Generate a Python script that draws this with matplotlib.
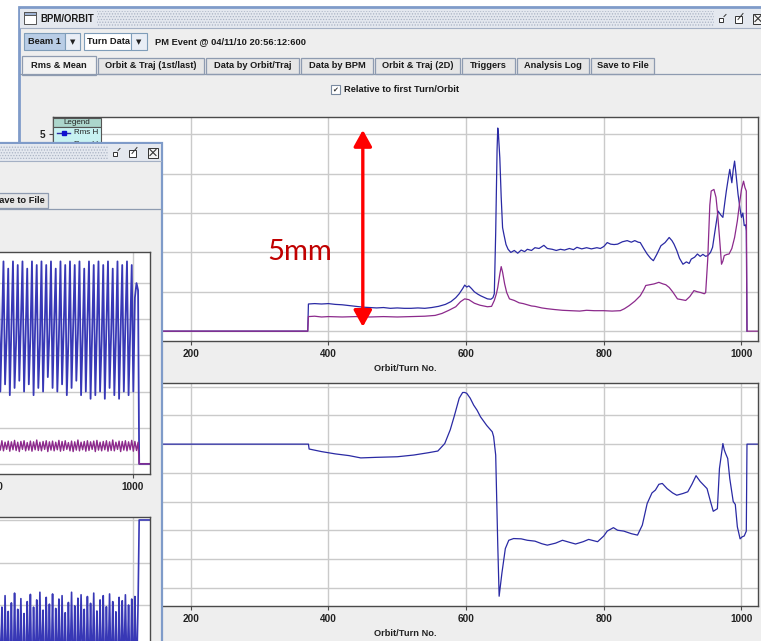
import numpy as np
import matplotlib
matplotlib.use('Agg')
import matplotlib.pyplot as plt
from matplotlib.patches import Rectangle

# --- data (turn number, value) ---
# back window, upper plot: Rms H (blue) and Rms V (purple), mm
rms_h = [(0, 0), (370, 0), (371, 0.69), (380, 0.70), (390, 0.69), (400, 0.70), (410, 0.68),
         (420, 0.67), (430, 0.65), (440, 0.63), (450, 0.61), (460, 0.60), (470, 0.59), (480, 0.60),
         (490, 0.58), (500, 0.59), (510, 0.58), (520, 0.58), (530, 0.59), (540, 0.58), (550, 0.60),
         (560, 0.63), (570, 0.68), (578, 0.75), (585, 0.85), (590, 0.95), (595, 1.08), (598, 1.17),
         (601, 1.12), (604, 1.15), (608, 1.08), (612, 1.00), (617, 0.94), (621, 0.90), (626, 0.86),
         (631, 0.82), (636, 0.81), (639, 0.85), (641, 0.95), (643, 2.5), (645, 4.6), (646, 5.16),
         (647, 5.0), (649, 4.4), (651, 3.4), (653, 2.63), (655, 2.45), (658, 2.2), (661, 2.08),
         (665, 2.0), (670, 2.05), (675, 1.98), (680, 2.06), (685, 2.02), (689, 2.08), (695, 2.05),
         (700, 2.12), (706, 2.1), (713, 2.18), (718, 2.1), (725, 2.08), (731, 2.05), (737, 2.08),
         (743, 2.06), (750, 2.1), (756, 2.07), (761, 2.13), (768, 2.09), (775, 2.12), (782, 2.09),
         (790, 2.12), (795, 2.1), (800, 2.15), (805, 2.25), (810, 2.21), (815, 2.2), (820, 2.21),
         (827, 2.27), (834, 2.3), (840, 2.26), (845, 2.3), (850, 2.26), (853, 2.25), (858, 2.1),
         (863, 1.96), (868, 1.85), (872, 1.79), (877, 1.95), (883, 2.17), (889, 2.25), (895, 2.38),
         (899, 2.3), (902, 2.21), (906, 2.05), (910, 1.85), (915, 1.7), (920, 1.76), (924, 1.72),
         (927, 1.83), (932, 1.88), (936, 1.96), (940, 1.9), (944, 1.95), (948, 1.9), (951, 1.92),
         (955, 2.0), (958, 2.13), (962, 2.6), (966, 3.05), (970, 2.95), (973, 2.89), (976, 3.3),
         (978, 3.56), (981, 3.9), (983, 4.11), (986, 3.77), (988, 4.1), (990, 4.32), (992, 4.0),
         (995, 3.48), (998, 3.1), (1000, 2.89), (1002, 3.0), (1004, 2.68), (1006, 2.7),
         (1007, 2.55), (1008, 0.0)]
rms_v = [(0, 0), (370, 0), (371, 0.37), (380, 0.38), (390, 0.36), (400, 0.37), (420, 0.36),
         (440, 0.37), (460, 0.36), (480, 0.37), (500, 0.36), (520, 0.37), (540, 0.38), (555, 0.40),
         (565, 0.45), (575, 0.53), (585, 0.62), (592, 0.75), (598, 0.82), (604, 0.80), (612, 0.71),
         (620, 0.66), (631, 0.62), (637, 0.63), (641, 0.78), (644, 0.95), (646, 1.11), (649, 1.45),
         (651, 1.64), (653, 1.5), (656, 1.2), (659, 0.98), (663, 0.82), (670, 0.78), (677, 0.72),
         (683, 0.70), (689, 0.67), (695, 0.64), (700, 0.63), (710, 0.59), (718, 0.57), (728, 0.55),
         (740, 0.53), (752, 0.52), (765, 0.51), (775, 0.53), (786, 0.52), (800, 0.52), (812, 0.51),
         (824, 0.52), (830, 0.57), (837, 0.65), (845, 0.76), (853, 0.90), (858, 1.05), (861, 1.16),
         (867, 1.18), (873, 1.20), (880, 1.24), (886, 1.20), (890, 1.18), (895, 1.11), (900, 1.0),
         (907, 0.82), (913, 0.80), (919, 0.78), (925, 0.88), (931, 1.03), (936, 1.0), (941, 0.98),
         (946, 0.95), (948, 0.98), (951, 1.83), (954, 3.2), (956, 3.56), (960, 3.6), (963, 3.4),
         (965, 3.05), (968, 2.4), (971, 1.7), (973, 1.78), (975, 1.92), (979, 1.95), (982, 1.96),
         (986, 2.1), (990, 2.38), (994, 2.8), (997, 3.22), (1000, 3.6), (1003, 3.81), (1005, 3.65),
         (1007, 3.56), (1008, 0.0), (1024, 0.0)]

# back window, lower plot: mean position (blue)
mean_h = [(0, 0), (371, 0), (372, -0.17), (390, -0.26), (410, -0.34), (430, -0.40), (447, -0.48),
          (470, -0.46), (500, -0.44), (524, -0.38), (545, -0.30), (559, -0.24), (569, 0.02),
          (577, 0.5), (583, 0.99), (590, 1.6), (595, 1.8), (598, 1.8), (601, 1.77), (606, 1.6),
          (611, 1.36), (616, 1.18), (621, 0.95), (630, 0.65), (638, 0.43), (640, 0.26),
          (643, -0.38), (646, -3.5), (648, -5.3), (652, -4.5), (657, -3.64), (662, -3.35),
          (669, -3.29), (680, -3.3), (689, -3.35), (700, -3.38), (710, -3.47), (718, -3.52),
          (730, -3.45), (740, -3.35), (750, -3.42), (759, -3.48), (770, -3.4), (778, -3.32),
          (791, -3.4), (800, -3.2), (805, -3.03), (814, -2.91), (820, -3.0), (829, -3.03),
          (840, -3.12), (849, -3.17), (856, -2.82), (863, -2.07), (870, -1.7), (875, -1.6),
          (880, -1.4), (885, -1.37), (892, -1.55), (900, -1.7), (906, -1.78), (915, -1.72),
          (922, -1.66), (928, -1.4), (934, -1.1), (940, -1.3), (950, -1.55), (955, -2.0),
          (959, -2.34), (965, -2.25), (968, -0.85), (973, 0.02), (975, -0.2), (977, -0.33),
          (980, -0.5), (983, -1.2), (988, -2.0), (991, -2.1), (994, -2.88), (998, -3.3),
          (1001, -3.23), (1004, -3.2), (1007, -3.03), (1008, 0.0), (1024, 0.0)]

# front window (partly visible), turn-by-turn samples from turn 805 every 2.3 turns
front_start, front_step = 805, 2.3
front_h = [5.5, 2.0, 3.7, 5.6, 2.2, 3.5, 5.4, 1.9, 3.8, 5.6, 2.1, 3.4, 5.5, 2.3, 3.9,
           5.6, 2.0, 3.6, 5.4, 2.2, 3.5, 5.6, 1.9, 3.8, 5.5, 2.1, 3.3, 5.6, 2.0, 3.7,
           5.5, 2.4, 3.6, 5.6, 2.1, 3.9, 5.4, 2.0, 3.5, 5.6, 2.2, 3.7, 5.5, 1.9, 3.4,
           5.6, 2.1, 3.8, 5.5, 2.3, 3.6, 5.6, 1.9, 3.5, 5.4, 2.0, 3.9, 5.6, 1.8, 3.6,
           5.5, 1.9, 3.7, 5.6, 2.0, 3.4, 5.5, 1.8, 3.8, 5.6, 2.1, 3.6, 5.4, 1.9, 3.5,
           5.6, 1.8, 3.7, 5.5, 2.0, 3.9, 5.6, 1.9, 3.6, 5.5, 2.0, 4.6, 5.0, 4.8]
front_v = [0.62, 0.38, 0.64, 0.36, 0.60, 0.40, 0.63, 0.35, 0.61, 0.39,
           0.65, 0.37, 0.60, 0.34, 0.62, 0.40, 0.64, 0.36, 0.59, 0.38,
           0.63, 0.35, 0.61, 0.39, 0.66, 0.37, 0.60, 0.36, 0.62, 0.40,
           0.64, 0.34, 0.61, 0.38, 0.63, 0.36, 0.60, 0.39, 0.65, 0.35,
           0.62, 0.37, 0.64, 0.40, 0.59, 0.36, 0.63, 0.34, 0.61, 0.38,
           0.66, 0.36, 0.60, 0.39, 0.62, 0.35, 0.64, 0.37, 0.61, 0.40,
           0.63, 0.34, 0.65, 0.38, 0.60, 0.36, 0.62, 0.39, 0.64, 0.35,
           0.61, 0.37, 0.66, 0.36, 0.60, 0.40, 0.63, 0.34, 0.62, 0.38,
           0.64, 0.36, 0.61, 0.39, 0.65, 0.35, 0.62, 0.37, 0.60]
front_mean = [0.10, -1.8, -0.05, -2.0, 0.22, -1.7, -0.15, -1.9, 0.05, -2.1,
              0.28, -1.8, -0.10, -1.6, 0.15, -2.0, -0.20, -1.9, 0.08, -1.7,
              0.25, -2.1, -0.05, -1.8, 0.12, -1.9, 0.30, -1.6, -0.12, -2.0,
              0.18, -1.8, 0.02, -1.9, 0.26, -2.1, -0.08, -1.7, 0.14, -1.9,
              0.22, -1.8, -0.18, -2.0, 0.06, -1.7, 0.30, -1.9, -0.02, -2.1,
              0.16, -1.8, 0.24, -1.6, -0.10, -2.0, 0.20, -1.9, 0.04, -1.7,
              0.28, -2.1, -0.14, -1.8, 0.12, -1.9, 0.22, -2.0, -0.04, -1.7,
              0.26, -1.9, 0.08, -1.8, -0.16, -2.1, 0.18, -1.9, 0.10, -1.7,
              0.24, -1.8, 0.00, -2.0, 0.14, -1.9, 0.20, -1.8, 0.05]
front_tail_turns = [1009, 1024]
front_h_tail = [0.0, 0.0]
front_v_tail = [0.0, 0.0]
front_mean_tail = [2.0, 2.0]

x_ticks = [200, 400, 600, 800, 1000]
front_x_ticks = [800, 1000]
tabs = ['Rms & Mean', 'Orbit & Traj (1st/last)', 'Data by Orbit/Traj', 'Data by BPM',
        'Orbit & Traj (2D)', 'Triggers', 'Analysis Log', 'Save to File']
tab_edges = [(22, 96), (98, 204), (206, 299), (301, 373), (375, 460), (462, 515),
             (517, 589), (591, 654)]

W, H = 761, 641
BLUE = '#2a2aa4'
PURPLE = '#8c2a8c'
GRID = '#cacaca'
FRAME = '#4a4a4a'
PANEL = '#eeeeee'
BORDER = '#7f9bc9'
TEXT = '#1a1a1a'

plt.rcParams['font.family'] = ['Liberation Sans', 'DejaVu Sans']
plt.rcParams['hatch.linewidth'] = 0.6

fig = plt.figure(figsize=(W / 100, H / 100), dpi=100)
fig.patch.set_facecolor('white')


def frac(x0, y0, x1, y1):
    return [x0 / W, 1 - y1 / H, (x1 - x0) / W, (y1 - y0) / H]


def layer(z):
    ax = fig.add_axes([0, 0, 1, 1], zorder=z)
    ax.set_xlim(0, W)
    ax.set_ylim(H, 0)
    ax.axis('off')
    return ax


def rect(ax, x0, y0, x1, y1, fc, ec='none', lw=1.0, **kw):
    ax.add_patch(Rectangle((x0, y0), x1 - x0, y1 - y0, facecolor=fc, edgecolor=ec,
                           linewidth=lw, **kw))


def label(ax, x, y, s, size=6.7, ha='left', bold=True, **kw):
    ax.text(x, y, s, fontsize=size, fontweight='bold' if bold else 'normal', ha=ha,
            va='center', color=TEXT, **kw)


def window_icons(ax, xs, cy):
    # minimise, maximise, close
    x = xs[0]
    rect(ax, x - 4, cy - 1, x, cy + 3, 'white', ec='#333333', lw=0.7)
    ax.plot([x + 1, x + 3], [cy - 2, cy - 4], color='#333333', lw=0.7)
    x = xs[1]
    rect(ax, x - 4, cy - 3, x + 3, cy + 4, 'white', ec='#333333', lw=0.7)
    ax.plot([x - 1, x + 4], [cy + 1, cy - 5], color='#333333', lw=0.7)
    x = xs[2]
    rect(ax, x - 5, cy - 5, x + 5, cy + 5, '#f4f4f4', ec='#333333', lw=0.7)
    ax.plot([x - 3, x + 3], [cy - 3, cy + 3], color='#333333', lw=0.8)
    ax.plot([x - 3, x + 3], [cy + 3, cy - 3], color='#333333', lw=0.8)


def title_bar(ax, x0, x1, y0, y1, hx0, hx1, icon_xs):
    rect(ax, x0, y0, x1, y1, '#e4e8ef')
    rect(ax, hx0, y0 + 2, hx1, y1 - 2, '#e4e8ef', ec='#aab3c4', lw=0, hatch='......')
    ax.plot([x0, x1], [y1, y1], color='#a4b0c4', lw=0.8)
    window_icons(ax, icon_xs, (y0 + y1) / 2)


def plot_axes(box, xlim, ylim, xticks, yticks, z, show_y=True, show_x=True, xlabel=True):
    ax = fig.add_axes(frac(*box), zorder=z)
    ax.set_facecolor('white')
    ax.set_xlim(*xlim)
    ax.set_ylim(*ylim)
    ax.set_xticks(xticks)
    ax.set_yticks(yticks)
    ax.grid(True, color=GRID, lw=1.0)
    ax.set_axisbelow(True)
    for s in ax.spines.values():
        s.set_color(FRAME)
        s.set_linewidth(1.0)
    ax.tick_params(length=3, width=0.8, color=FRAME, labelsize=7.2, pad=2.5,
                   labelcolor='#222222', labelleft=show_y, labelbottom=show_x)
    for t in ax.get_xticklabels() + ax.get_yticklabels():
        t.set_fontweight('bold')
    if xlabel:
        ax.set_xlabel('Orbit/Turn No.', fontsize=6.7, fontweight='bold', labelpad=4,
                      color='#222222')
    return ax


# ---------------- back window chrome ----------------
back = layer(0)
rect(back, 19, 7, W + 10, H + 10, PANEL, ec=BORDER, lw=2.0)
title_bar(back, 20, W + 5, 9, 28, 97, 714, [723, 739, 758])
rect(back, 24, 12, 36, 24, 'white', ec='#555555', lw=0.7)
rect(back, 24, 12, 36, 15, '#9fb3d3', ec='#555555', lw=0.7)
label(back, 40, 18.5, 'BPM/ORBIT', size=6.9)

rect(back, 24, 33, 65, 50, '#b9cde6', ec='#7f9db9', lw=0.8)
label(back, 28, 41.5, 'Beam 1')
rect(back, 65, 33, 80, 50, '#e9eef6', ec='#7f9db9', lw=0.8)
back.text(72.5, 42, '\u25bc', fontsize=5, ha='center', va='center', color='#222222',
          family='DejaVu Sans')
rect(back, 84, 33, 131, 50, 'white', ec='#7f9db9', lw=0.8)
label(back, 87, 41.5, 'Turn Data')
rect(back, 131, 33, 147, 50, '#e9eef6', ec='#7f9db9', lw=0.8)
back.text(139, 42, '\u25bc', fontsize=5, ha='center', va='center', color='#222222',
          family='DejaVu Sans')
label(back, 155, 41.5, 'PM Event @ 04/11/10 20:56:12:600')

back.plot([20, W], [73.5, 73.5], color='#8e9bb0', lw=0.9)
for i, (name, (tx0, tx1)) in enumerate(zip(tabs, tab_edges)):
    if i == 0:
        rect(back, tx0, 56, tx1, 74.5, '#f2f2f2', ec='#8e9bb0', lw=0.9)
        rect(back, tx0 + 0.6, 73, tx1 - 0.6, 75, '#f2f2f2')
    else:
        rect(back, tx0, 58, tx1, 73.5, '#e6e6e6', ec='#8e9bb0', lw=0.9)
    label(back, (tx0 + tx1) / 2, 65.5, name, ha='center')

rect(back, 331, 85, 340, 94, 'white', ec='#7a8aa0', lw=0.8)
back.text(335.5, 89.5, '\u2714', fontsize=5, ha='center', va='center', color='#333333',
          family='DejaVu Sans')
label(back, 344, 89.5, 'Relative to first Turn/Orbit')

# ---------------- back window plots ----------------
ax_up = plot_axes((53, 117, 758, 341), (0, 1024), (-0.25, 5.44), x_ticks,
                  [0, 1, 2, 3, 4, 5], 1)
hx, hy = np.array(rms_h).T
vx, vy = np.array(rms_v).T
ax_up.plot(hx, hy, color=BLUE, lw=0.9)
ax_up.plot(vx, vy, color=PURPLE, lw=0.9)
ax_up.annotate('', xy=(450, 5.11), xytext=(450, 0.11),
               arrowprops=dict(arrowstyle='<|-|>,head_length=0.45,head_width=0.25',
                               color='#ff0000', lw=2.4, mutation_scale=22,
                               shrinkA=0, shrinkB=0), zorder=10)
ax_up.text(358, 2.0, '5mm', color='#c00000', fontsize=21, family=['Lato', 'DejaVu Sans'],
           ha='center', va='center', zorder=10)

ax_lo = plot_axes((53, 383, 758, 606), (0, 1024), (-5.64, 2.13), x_ticks,
                  list(range(-5, 3)), 1)
mx, my = np.array(mean_h).T
ax_lo.plot(mx, my, color=BLUE, lw=0.9)

# legend box of the back window
leg = layer(1.5)
rect(leg, 53, 118, 101, 127, '#acd6cc', ec='#555555', lw=0.8)
rect(leg, 53, 127, 101, 156, '#c8f2f2', ec='#555555', lw=0.8)
leg.text(77, 122.6, 'Legend', fontsize=5.8, ha='center', va='center', color='#222222')
leg.plot([57, 70], [133, 133], color=BLUE, lw=1.0)
leg.plot([63.5], [133], marker='s', ms=3.5, color='#1010d0')
leg.text(74, 133, 'Rms H', fontsize=5.8, ha='left', va='center', color='#222222')
leg.plot([57, 70], [145, 145], color=PURPLE, lw=1.0)
leg.plot([63.5], [145], marker='^', ms=3.5, color=PURPLE)
leg.text(74, 145, 'Rms V', fontsize=5.8, ha='left', va='center', color='#222222')

# ---------------- front window ----------------
front = layer(2)
rect(front, -10, 143, 162, H + 10, PANEL, ec=BORDER, lw=1.6)
title_bar(front, -10, 161, 144, 161, -10, 108, [117, 133, 153])
rect(front, -60, 193, 48, 208, '#e6e6e6', ec='#8e9bb0', lw=0.9)
label(front, 45, 200.5, 'Save to File', ha='right')
front.plot([-10, 161], [208.5, 208.5], color='#8e9bb0', lw=0.9)

fx = front_start + front_step * np.arange(len(front_h))
ax_fu = plot_axes((-555.5, 252, 149.5, 474), (0, 1024), (-0.28, 5.86), front_x_ticks,
                  list(range(0, 6)), 3, show_y=False, xlabel=False)
ax_fu.plot(np.r_[fx, front_tail_turns], np.r_[front_h, front_h_tail], color='#3838b6', lw=1.3)
ax_fu.plot(np.r_[fx, front_tail_turns], np.r_[front_v, front_v_tail], color=PURPLE, lw=1.0)

# lower plot of the front window runs past the bottom edge: no tick labels are visible
ax_fl = plot_axes((-555.5, 517, 149.5, 739), (0, 1024), (-3.15, 2.07), front_x_ticks,
                  list(range(-3, 3)), 3, show_y=False, show_x=False, xlabel=False)
ax_fl.plot(np.r_[fx, front_tail_turns], np.r_[front_mean, front_mean_tail], color='#3838b6',
           lw=1.2)

fig.savefig('out.png', dpi=100, facecolor=fig.get_facecolor())
